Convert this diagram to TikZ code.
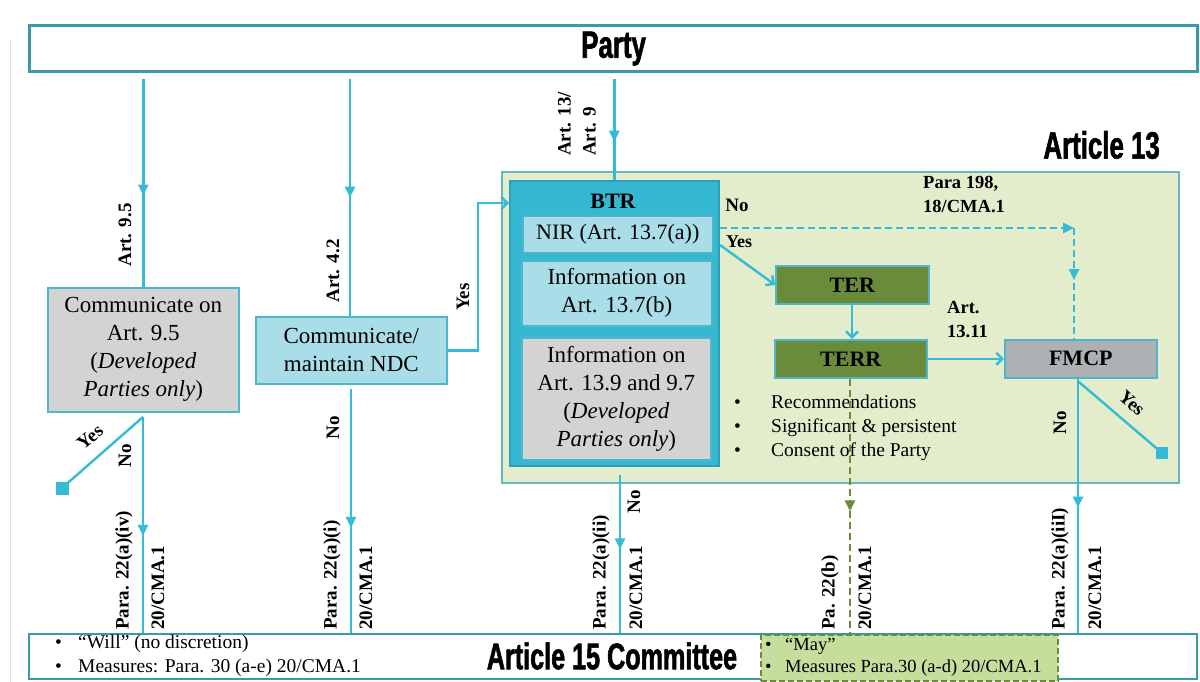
\documentclass[tikz,border=0pt]{standalone}
\usepackage{fontspec}
\setmainfont{Liberation Serif}
\newfontfamily\impact[FakeStretch=0.68,BoldFeatures={FakeBold=1.5}]{Liberation Sans}
\usetikzlibrary{arrows.meta,decorations.markings}
\definecolor{cyl}{HTML}{34BBD6}
\definecolor{tealb}{HTML}{3A9AAA}
\definecolor{panelf}{HTML}{E3ECCB}
\definecolor{panelb}{HTML}{6BB5C2}
\definecolor{btrf}{HTML}{35B8D1}
\definecolor{btrb}{HTML}{2C9FB6}
\definecolor{lbf}{HTML}{A9DDE8}
\definecolor{lbb}{HTML}{4DB6CA}
\definecolor{grayf}{HTML}{D3D3D3}
\definecolor{olive}{HTML}{6A8B39}
\definecolor{fmcpf}{HTML}{AEB1B3}
\definecolor{mayf}{HTML}{C6DE9C}
\begin{document}
\begin{tikzpicture}[x=1pt,y=-1pt,
  conn/.style={draw=cyl, line width=2.4pt},
  marr/.style={postaction={decorate},decoration={markings,mark=at position #1 with {\arrow{Triangle[length=11pt,width=10pt]}}}},
  barb/.style={-{Straight Barb[length=6pt,width=12pt]}},
  box/.style={draw, line width=1.6pt, inner sep=0pt, align=center, anchor=north west},
  txt/.style={font=\fontsize{23}{28}\selectfont},
  btxt/.style={font=\fontsize{22}{26}\selectfont\bfseries},
  lab/.style={font=\fontsize{19}{25}\selectfont\bfseries, inner sep=0pt},
  vlab/.style={lab, rotate=90},
  blab/.style={lab, rotate=90, anchor=west},
  imp/.style={font=\impact\bfseries\fontsize{38}{40}\selectfont, inner sep=0pt},
  sq/.style={fill=cyl, minimum size=12pt, inner sep=0pt}
]
\useasboundingbox[fill=white] (0,0) rectangle (1200,682);
\draw[black!12, line width=0.8pt] (10,40) -- (10,682);

% Party
\node[box, draw=tealb, line width=3.2pt, minimum width=1168pt, minimum height=46pt, fill=white, imp] (party) at (28,24) {Party};

% Article 13 panel
\node[box, draw=panelb, fill=panelf, line width=1.6pt, minimum width=677pt, minimum height=311pt] (panel) at (501,171) {};
\node[imp, anchor=east] (a13t) at (1160,145) {Article 13};

% left boxes
\node[box, draw=lbb, fill=grayf, txt, minimum width=191pt, minimum height=124pt] (c95) at (47,287)
  {Communicate on\\Art. 9.5\\(\textit{Developed}\\\textit{Parties only})};
\node[box, draw=lbb, fill=lbf, txt, minimum width=191pt, minimum height=67pt] (ndc) at (255,316)
  {Communicate/\\maintain NDC};

% BTR
\node[box, draw=btrb, fill=btrf, minimum width=209pt, minimum height=285pt] (btr) at (509,180) {};
\node[btxt] (btrt) at (613,201) {BTR};
\node[box, draw=lbb, fill=lbf, txt, font=\fontsize{22}{26}\selectfont, minimum width=190pt, minimum height=37pt] (nir) at (522,215) {NIR (Art. 13.7(a))};
\node[box, draw=lbb, fill=lbf, txt, minimum width=190pt, minimum height=65pt] (infob) at (521,260) {Information on\\Art. 13.7(b)};
\node[box, draw=lbb, fill=grayf, txt, minimum width=189pt, minimum height=122pt] (info9) at (521,337)
  {Information on\\Art. 13.9 and 9.7\\(\textit{Developed}\\\textit{Parties only})};

% TER, TERR, FMCP
\node[box, draw=lbb, fill=olive, btxt, minimum width=153pt, minimum height=38pt] (ter) at (775,265) {TER};
\node[box, draw=lbb, fill=olive, btxt, minimum width=152pt, minimum height=38pt] (terr) at (774,339) {TERR};
\node[box, draw=lbb, fill=fmcpf, btxt, minimum width=152pt, minimum height=38pt] (fmcp) at (1004,339) {FMCP};

% bullets in panel
\node[anchor=north west, align=left, inner sep=0pt, font=\fontsize{19.5}{24}\selectfont] (recs) at (734,395)
  {\makebox[37pt][l]{•}Recommendations\\\makebox[37pt][l]{•}Significant \& persistent\\\makebox[37pt][l]{•}Consent of the Party};

% Article 15 Committee
\node[box, draw=tealb, line width=2.4pt, fill=white, minimum width=1168pt, minimum height=45pt] (a15) at (28,633) {};
\node[imp, font=\impact\bfseries\fontsize{37}{40}\selectfont] (a15t) at (612,656) {Article 15 Committee};
\node[anchor=west, align=left, inner sep=0pt, font=\fontsize{19.5}{24}\selectfont] (will) at (55,656)
  {\makebox[23pt][l]{•}“Will” (no discretion)\\\makebox[23pt][l]{•}Measures: Para. 30 (a-e) 20/CMA.1};
\node[box, draw=olive, dashed, dash pattern=on 6pt off 3pt, line width=2.2pt, fill=mayf, minimum width=297pt, minimum height=46pt] (may) at (760,634) {};
\node[anchor=west, align=left, inner sep=0pt, font=\fontsize{18.5}{22}\selectfont] (mayt) at (765,657)
  {\makebox[20pt][l]{•}“May”\\\makebox[20pt][l]{•}Measures Para.30 (a-d) 20/CMA.1};

% squares
\node[sq, minimum size=13pt] (sql) at (62,488) {};
\node[sq] (sqr) at (1162,453) {};

% coordinates
\coordinate (c95o) at (143,417);
\coordinate (ndcbend) at (478,203);
\coordinate (btrin) at (509,203);
\coordinate (ys) at (720,245);
\coordinate (dcorner) at (1074,228);
\coordinate (btro) at (620,475);
\coordinate (fmo) at (1078,377);
\coordinate (fmy) at (1079,382);

% connectors from Party
\draw[conn, marr=0.56] (party.south -| c95.north) ++(0,6) -- (c95.north);
\draw[conn, marr=0.5] (party.south -| 350,0) ++(0,6) -- (ndc.north -| 350,0);
\draw[conn, marr=0.62] (party.south -| btr.north) ++(0,6) -- (btr.north);
\draw[conn, barb] (ndc.east) -- (ndc.east -| ndcbend) |- (btrin);

% from c95
\draw[conn] (c95o) -- (sql.center);
\draw[conn, marr=0.55] (c95o) -- (a15.north -| c95o);
% from NDC
\draw[conn, marr=0.57] (ndc.south -| 351,0) ++(0,4) -- (a15.north -| 351,0);
% BTR no
\draw[conn, marr=0.47] (btro) -- (a15.north -| btro);
% dashed
\draw[conn, dashed, dash pattern=on 7pt off 4pt, -{Triangle[length=11pt,width=10pt]}] (btr.east |- dcorner) -- (dcorner);
\draw[conn, dashed, dash pattern=on 7pt off 4pt, marr=0.47] (dcorner) -- (fmcp.north -| dcorner);
% yes -> TER
\draw[conn, barb] (ys) -- (ter.west);
\draw[conn, barb] (ter.south -| 852,0) -- (terr.north -| 852,0);
\draw[conn, barb] (terr.east) -- (fmcp.west);
% TERR dashed green
\draw[draw=olive, line width=2.4pt, dashed, dash pattern=on 7pt off 4pt, postaction={decorate}, decoration={markings,mark=at position 0.52 with {\arrow[olive]{Triangle[length=11pt,width=10pt]}}}] (terr.south -| 850,0) -- (may.north -| 850,0);
% FMCP
\draw[conn, marr=0.51] (fmo) -- (a15.north -| fmo);
\draw[conn] (fmy) -- (sqr.center);

% labels
\node[vlab] (l95) at (125,235) {Art. 9.5};
\node[vlab] (l42) at (333,271) {Art. 4.2};
\node[lab, rotate=90, anchor=west, align=left] (l139) at (577,156) {Art. 13/\\Art. 9};
\node[vlab] (lyes1) at (463,297) {Yes};
\node[vlab] (lno1) at (125,456) {No};
\node[lab, rotate=40] (lyes2) at (90,437) {Yes};
\node[vlab] (lno2) at (333,428) {No};
\node[vlab] (lno3) at (634,502) {No};
\node[vlab] (lno4) at (1060,423) {No};
\node[lab, rotate=-42] (lyes3) at (1132,403) {Yes};
\node[lab, anchor=center] (lno5) at (737,205) {No};
\node[lab, anchor=center, font=\fontsize{18}{22}\selectfont\bfseries] (lyes4) at (739,242) {Yes};
\node[lab, anchor=west, align=left, font=\fontsize{18.5}{24}\selectfont\bfseries] (l198) at (923,194) {Para 198,\\18/CMA.1};
\node[lab, anchor=west, align=left, font=\fontsize{18.5}{24}\selectfont\bfseries] (l1311) at (947,320) {Art.\\13.11};

% bottom rotated labels
\node[blab] at (124,630) {Para. 22(a)(iv)};
\node[blab] at (158,630) {20/CMA.1};
\node[blab] at (332,630) {Para. 22(a)(i)};
\node[blab] at (366,630) {20/CMA.1};
\node[blab] at (601,630) {Para. 22(a)(ii)};
\node[blab] at (636,630) {20/CMA.1};
\node[blab] at (830,630) {Pa. 22(b)};
\node[blab] at (865,630) {20/CMA.1};
\node[blab] at (1060,630) {Para. 22(a)(iiI)};
\node[blab] at (1095,630) {20/CMA.1};
\end{tikzpicture}
\end{document}
